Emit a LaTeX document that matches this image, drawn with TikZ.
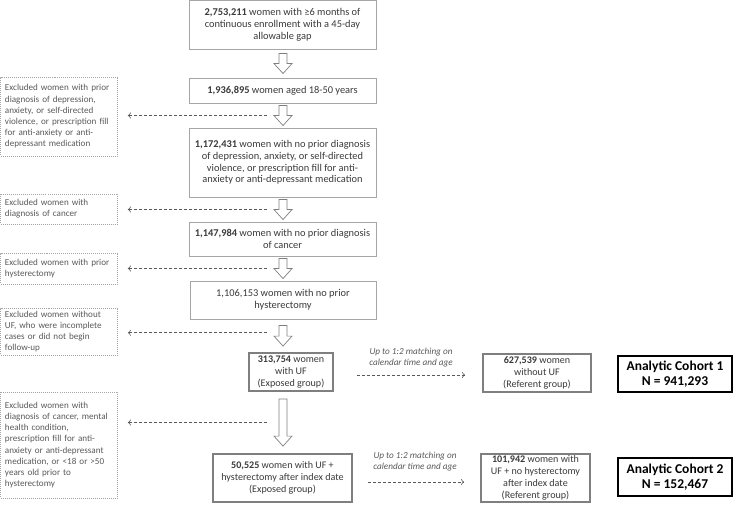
\documentclass[tikz,border=0pt]{standalone}
\usepackage{fontspec}
\setmainfont{Carlito}
\usetikzlibrary{arrows.meta,calc}

\definecolor{txtgray}{HTML}{3A3A3A}
\definecolor{boxgray}{HTML}{A6A6A6}
\definecolor{midgray}{HTML}{7F7F7F}
\definecolor{exclgray}{HTML}{595959}

\tikzset{
  mainbox/.style={draw=boxgray, line width=0.9pt, text=txtgray, align=center, inner sep=1pt,
                  font=\fontsize{10.4}{11.7}\selectfont},
  groupbox/.style={mainbox, draw=midgray, line width=1.8pt, font=\fontsize{10.1}{12.2}\selectfont},
  cohortbox/.style={draw=black, line width=1.6pt, align=center, inner sep=1pt,
                    font=\fontsize{13.5}{15}\selectfont\bfseries},
  exclbox/.style={draw=boxgray, dash pattern=on 1pt off 1pt, line width=0.7pt, text=exclgray,
                  align=left, text width=108pt, inner sep=0pt, minimum width=117pt,
                  font=\fontsize{9.1}{11.2}\selectfont},
  hollow/.style={draw=midgray, line width=0.7pt, fill=white},
  exclarrow/.style={draw=exclgray, dash pattern=on 3pt off 2pt, line width=0.6pt,
                    -{To[length=3pt,width=6pt]}, shorten >=10pt},
  matcharrow/.style={exclarrow},
  matchlabel/.style={text=exclgray, align=center, inner sep=0pt,
                     font=\fontsize{9.2}{11}\selectfont\itshape}
}

% hollow block arrow down the main column
\newcommand{\hollowarrow}[4][3]{%
  \coordinate (#4-t) at ($(col |- #2.south)+(0,#1)$);
  \coordinate (#4-b) at ($(col |- #3.north)+(0,-#1)$);
  \coordinate (#4) at ($(#4-t)!0.5!(#4-b)$);
  \draw[hollow] ($(#4-t)+(-4,0)$) -- ($(#4-t)+(4,0)$) -- ($(#4-b)+(4,-10)$)
    -- ($(#4-b)+(9,-10)$) -- (#4-b) -- ($(#4-b)+(-9,-10)$) -- ($(#4-b)+(-4,-10)$) -- cycle;}

\begin{document}
\begin{tikzpicture}[x=1pt, y=-1pt]
  \useasboundingbox (0,0) rectangle (733,507);
  \coordinate (col) at (283,0);

  % Main column
  \node[mainbox, minimum width=187pt, minimum height=48.5pt] (n1) at (282.5,24.75)
    {\textbf{2,753,211} women with ≥6 months of\\continuous enrollment with a 45-day\\allowable gap};
  \node[mainbox, minimum width=187pt, minimum height=25pt] (n2) at (282.5,90.5)
    {\textbf{1,936,895} women aged 18-50 years};
  \node[mainbox, minimum width=187pt, minimum height=69pt] (n3) at (282.5,162.5)
    {\textbf{1,172,431} women with no prior diagnosis\\of depression, anxiety, or self-directed\\violence, or prescription fill for anti-\\anxiety or anti-depressant medication};
  \node[mainbox, minimum width=187pt, minimum height=34pt] (n4) at (282.5,239)
    {\textbf{1,147,984} women with no prior diagnosis\\of cancer};
  \node[mainbox, minimum width=186pt, minimum height=38pt] (n5) at (283,300)
    {1,106,153 women with no prior\\hysterectomy};
  \node[groupbox, minimum width=84pt, minimum height=38pt] (uf) at (291,372)
    {\textbf{313,754} women\\with UF\\(Exposed group)};
  \node[groupbox, minimum width=139pt, minimum height=48pt] (hyst) at (282.5,478)
    {\textbf{50,525} women with UF +\\hysterectomy after index date\\(Exposed group)};

  % Referent groups
  \node[groupbox, minimum width=108pt, minimum height=38pt] (ref1) at (537,373)
    {\textbf{627,539} women\\without UF\\(Referent group)};
  \node[groupbox, minimum width=109pt, minimum height=48pt, inner sep=0pt] (ref2) at (535.5,478)
    {\textbf{101,942} women with\\UF + no hysterectomy\\after index date\\(Referent group)};

  % Analytic cohorts
  \node[cohortbox, minimum width=114pt, minimum height=36pt] (coh1) at (675,374)
    {Analytic Cohort 1\\N = 941,293};
  \node[cohortbox, minimum width=114pt, minimum height=38pt] (coh2) at (675,477)
    {Analytic Cohort 2\\N = 152,467};

  % Exclusions
  \node[exclbox, minimum height=79pt] (ex1) at (59,116.5)
    {Excluded women with prior\\diagnosis of depression,\\anxiety, or self-directed\\violence, or prescription fill\\for anti-anxiety or anti-\\depressant medication};
  \node[exclbox, minimum height=30pt] (ex2) at (59,209)
    {Excluded women with\\diagnosis of cancer};
  \node[exclbox, minimum height=31pt] (ex3) at (59,268.5)
    {Excluded women with prior\\hysterectomy};
  \node[exclbox, minimum height=47pt] (ex4) at (59,331.5)
    {Excluded women without\\UF, who were incomplete\\cases or did not begin\\follow-up};
  \node[exclbox, minimum height=106pt] (ex5) at (59,445)
    {Excluded women with\\diagnosis of cancer, mental\\health condition,\\prescription fill for anti-\\anxiety or anti-depressant\\medication, or <18 or >50\\years old prior to\\hysterectomy};

  % Block arrows
  \hollowarrow[4]{n1}{n2}{a1}
  \hollowarrow[2]{n2}{n3}{a2}
  \hollowarrow[2]{n3}{n4}{a3}
  \hollowarrow[2]{n4}{n5}{a4}
  \hollowarrow[6]{n5}{uf}{a5}
  \hollowarrow[7]{uf}{hyst}{a6}

  % Exclusion arrows
  \draw[exclarrow] ($(a2)+(-16,0)$) -- (a2 -| ex1.east);
  \draw[exclarrow] ($(a3)+(-16,0)$) -- (a3 -| ex2.east);
  \draw[exclarrow] ($(a4)+(-16,0)$) -- (a4 -| ex3.east);
  \draw[exclarrow] ($(a5)+(-16,-3)$) -- ($(a5 -| ex4.east)+(0,-3)$);
  \draw[exclarrow] ($(a6)+(-16,0)$) -- (a6 -| ex5.east);

  % Matching
  \draw[matcharrow, shorten <=23pt, shorten >=17pt] ($(uf.east)+(0,3)$) -- ($(ref1.west)+(0,2)$);
  \draw[matcharrow, shorten <=15pt, shorten >=16pt] ($(hyst.east)+(0,4)$) -- ($(ref2.west)+(0,4)$);
  \node[matchlabel] (m1) at (411,358) {Up to 1:2 matching on\\calendar time and age};
  \node[matchlabel] (m2) at (415,462) {Up to 1:2 matching on\\calendar time and age};
\end{tikzpicture}
\end{document}
